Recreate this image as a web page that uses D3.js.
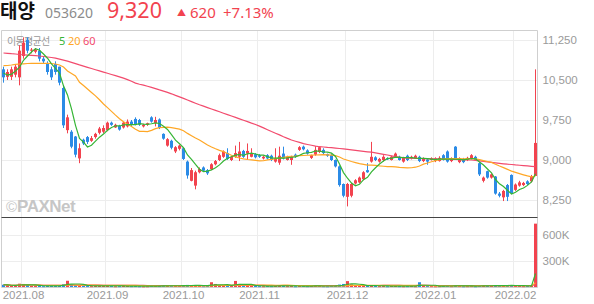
<!DOCTYPE html>
<html>
<head>
<meta charset="utf-8">
<script src="https://cdn.jsdelivr.net/npm/d3@7"></script>
<style>
  body { margin: 0; background: #fff; }
  svg { display: block; font-family: "Noto Sans", "Noto Sans CJK KR", sans-serif; }
</style>
</head>
<body>
<svg id="chart" width="594" height="304"></svg>
<script>
// header values
const stockName = "태양";
const stockCode = "053620";
const lastPrice = 9320;
const priceChange = 620;
const changePct = 7.13;

// daily candles, 2021-07-26 .. 2022-02-10
const opens = [10700,10560,10560,10600,10550,10950,11250,11050,11030,11050,
  10900,10800,10700,10800,10750,10350,9560,9530,9440,9030,
  9380,9430,9360,9430,9510,9530,9560,9700,9610,9640,
  9610,9630,9720,9770,9750,9630,9660,9800,9690,9760,
  9490,9270,9360,9160,9210,9220,8970,8610,8520,8770,
  8860,8810,8830,8920,9000,9060,9130,9000,9060,9060,
  9170,9120,9060,9110,9090,9030,9090,9080,8970,8950,
  9120,9000,9000,9100,9190,9250,9180,9040,9100,9150,
  9190,9110,9090,9000,8880,8550,8310,8330,8560,8580,
  8640,8810,8970,9050,8970,9000,9030,9000,9060,9060,
  8970,9080,9030,9030,9060,8980,9010,9000,8980,8980,
  9090,9160,8980,9250,8960,9020,9000,9030,9060,8940,
  8610,8790,8670,8690,8370,8300,8530,8720,8440,8520,
  8530,8600,8600,8700];
const highs = [10750,10700,10750,10800,11150,11300,11300,11100,11100,11100,
  10950,10850,10750,10850,10750,10400,9850,9560,9450,9310,
  9400,9450,9450,9510,9620,9650,9720,9720,9680,9660,
  9720,9760,9750,9800,9770,9680,9700,9820,9810,9780,
  9500,9410,9380,9260,9290,9230,8990,8850,8800,8860,
  8880,8830,8940,9000,9120,9180,9220,9080,9270,9340,
  9190,9310,9220,9130,9110,9080,9110,9100,9220,9250,
  9250,9080,9080,9120,9260,9270,9200,9100,9260,9250,
  9220,9120,9110,9010,8900,8560,8570,8570,8640,8690,
  8790,8940,9340,9070,9040,9090,9050,9080,9140,9080,
  9060,9100,9080,9100,9080,9050,9030,9050,9050,9070,
  9110,9180,9050,9260,9050,9040,9060,9110,9080,8960,
  8690,8800,8750,8700,8400,8440,8550,8730,8560,8610,
  8590,8620,8720,10700];
const lows = [10450,10500,10500,10550,10400,10900,11000,11000,11000,10850,
  10800,10600,10500,10600,10400,9600,9500,9220,9050,8940,
  9280,9300,9340,9400,9480,9500,9540,9640,9600,9550,
  9590,9610,9640,9650,9640,9610,9640,9700,9630,9580,
  9380,9250,9200,9130,9180,9000,8650,8600,8450,8750,
  8780,8720,8810,8900,8980,9040,9000,8980,9040,8980,
  9040,9000,9050,9030,9040,9010,9010,8980,8950,8910,
  9010,8990,8910,9040,9170,9180,9100,9020,9080,9130,
  9110,9060,8980,8860,8500,8300,8130,8300,8540,8560,
  8620,8760,8950,8980,8950,8970,9000,8990,9040,8990,
  8950,8980,9010,9020,8960,8960,8910,8990,8960,8970,
  8990,8950,8960,9000,8940,8940,8980,9010,8990,8700,
  8580,8650,8650,8350,8300,8230,8230,8360,8420,8500,
  8510,8530,8580,8700];
const closes = [10550,10650,10700,10750,11050,11200,11050,11070,11070,10900,
  10850,10650,10550,10650,10450,9650,9800,9250,9100,9220,
  9310,9340,9410,9490,9590,9600,9700,9660,9660,9570,
  9700,9720,9660,9670,9660,9660,9690,9720,9750,9600,
  9400,9390,9230,9240,9270,9020,8710,8810,8770,8830,
  8800,8750,8920,8980,9090,9160,9020,9060,9130,9160,
  9060,9170,9120,9050,9060,9060,9030,9000,9030,9080,
  9030,9060,9060,9060,9240,9200,9120,9090,9190,9240,
  9130,9080,9000,8880,8530,8330,8550,8550,8620,8670,
  8770,8770,9060,9000,9020,9060,9010,9060,9120,9000,
  9040,9000,9060,9080,8980,9030,8970,9030,9030,9040,
  9010,8970,9030,9020,9030,8960,9040,9090,9000,8730,
  8670,8670,8730,8370,8330,8420,8310,8380,8540,8580,
  8570,8550,8700,9320];
const volumes = [26000,21000,14000,16000,38000,35000,24000,12000,11000,15000,
  10000,13000,14000,12000,18000,32000,72000,28000,22000,20000,
  13000,11000,10000,12000,15000,14000,18000,11000,9000,10000,
  12000,13000,10000,11000,9000,8000,9000,12000,14000,11000,
  15000,17000,16000,12000,13000,19000,24000,20000,22000,12000,
  10000,11000,55000,35000,16000,14000,18000,11000,70000,35000,
  15000,20000,14000,12000,10000,9000,11000,10000,14000,17000,
  15000,10000,11000,9000,12000,13000,10000,11000,14000,13000,
  10000,9000,12000,16000,28000,35000,68000,30000,14000,12000,
  13000,15000,22000,12000,10000,11000,9000,14000,12000,10000,
  9000,10000,11000,9000,55000,16000,11000,10000,9000,10000,
  12000,18000,10000,20000,11000,9000,10000,11000,9000,20000,
  16000,14000,12000,22000,15000,17000,19000,21000,14000,12000,
  10000,11000,16000,731000];

const ma5Lead = [10630,10590,10610,10670];
const ma20Lead = [10768,10772,10781,10794,10800,10804,10809,10813,10813,10813,
  10813,10813,10809,10800,10781,10744,10669,10622,10575];
const ma60 = [11006,11001,10993,10988,10978,10973,10967,10961,10956,10950,
  10941,10931,10922,10911,10892,10873,10853,10830,10808,10783,
  10761,10738,10716,10693,10671,10648,10626,10603,10581,10558,
  10536,10506,10476,10442,10421,10403,10382,10361,10339,10314,
  10292,10269,10241,10211,10183,10155,10125,10095,10065,10035,
  10009,9982,9956,9930,9904,9877,9851,9825,9799,9772,
  9746,9720,9692,9666,9636,9602,9568,9534,9502,9471,
  9437,9405,9375,9352,9330,9307,9291,9276,9259,9249,
  9244,9236,9231,9223,9216,9208,9199,9189,9180,9171,
  9163,9154,9146,9133,9120,9107,9094,9079,9064,9051,
  9039,9036,9034,9032,9028,9026,9024,9022,9021,9019,
  9017,9015,9013,9009,9007,9004,9002,9000,8992,8983,
  8974,8964,8957,8947,8938,8929,8921,8916,8908,8902,
  8895,8889,8882,8876];

// axis ticks
const monthStarts = [5, 26, 45, 64, 86, 108, 128];
const monthLabels = ["2021.08", "2021.09", "2021.10", "2021.11", "2021.12", "2022.01", "2022.02"];
const priceTicks = [8250, 9000, 9750, 10500, 11250];
const volumeTicks = [300000, 600000];

const upColor = "#f2434f";
const downColor = "#2b8be6";
const maColors = { ma5: "#35b535", ma20: "#ffa726", ma60: "#f24b6d" };

function movingAvg(values, n, lead) {
  return values.map((v, i) => {
    if (i < n - 1) return lead ? lead[i] : d3.mean(values.slice(0, i + 1));
    return d3.mean(values.slice(i - n + 1, i + 1));
  });
}

const ma5 = movingAvg(closes, 5, ma5Lead);
const ma20 = movingAvg(closes, 20, ma20Lead);
const vma5 = movingAvg(volumes, 5);
const vma20 = movingAvg(volumes, 20);
const vma60 = movingAvg(volumes, 60);

const svg = d3.select("#chart");
const plotLeft = 1.5, plotRight = 537.5, plotTop = 30.5, sepY = 217.5, plotBottom = 287.5;

const idx = d3.range(closes.length);
const x = d3.scaleBand().domain(idx).range([plotLeft, plotRight]);
const cx = i => x(i) + x.bandwidth() / 2;
const yP = d3.scaleLinear().domain([8250, 11250]).range([200, 40]);
const yV = d3.scaleLinear().domain([0, 600000]).range([287, 235]);

// grid
const grid = svg.append("g").attr("stroke", "#ededed").attr("stroke-width", 1);
grid.selectAll(".hp").data(priceTicks).join("line")
  .attr("x1", plotLeft).attr("x2", plotRight)
  .attr("y1", d => Math.round(yP(d)) + 0.5).attr("y2", d => Math.round(yP(d)) + 0.5);
grid.selectAll(".hv").data(volumeTicks).join("line")
  .attr("x1", plotLeft).attr("x2", plotRight)
  .attr("y1", d => Math.round(yV(d)) + 0.5).attr("y2", d => Math.round(yV(d)) + 0.5);
grid.selectAll(".v").data(monthStarts).join("line")
  .attr("x1", d => x(d)).attr("x2", d => x(d))
  .attr("y1", plotTop).attr("y2", plotBottom);

// frame
svg.append("path")
  .attr("d", `M${plotLeft},${plotBottom}V${plotTop}H${plotRight}V${plotBottom}H${plotLeft}`)
  .attr("fill", "none").attr("stroke", "#cfcfcf");
svg.append("line").attr("x1", plotLeft).attr("x2", plotRight).attr("y1", sepY).attr("y2", sepY)
  .attr("stroke", "#444");

// watermark
const wm = svg.append("text").attr("x", 6).attr("y", 211.5)
  .attr("fill", "#c6c6c6").attr("font-family", "Liberation Sans, Arial, sans-serif");
wm.append("tspan").attr("font-size", 15).text("©");
wm.append("tspan").attr("font-size", 17).attr("font-weight", "bold").attr("letter-spacing", -0.5).text("PAXNet");

// legend
const legend = svg.append("text").attr("x", 7).attr("y", 44.5).attr("font-size", 11);
legend.append("tspan").attr("fill", "#999").attr("font-family", "Noto Sans CJK KR")
  .attr("font-size", 10).attr("letter-spacing", -0.7).text("이동평균선");
legend.append("tspan").attr("fill", maColors.ma5).attr("x", 59).text("5");
legend.append("tspan").attr("fill", maColors.ma20).attr("x", 68).text("20");
legend.append("tspan").attr("fill", maColors.ma60).attr("x", 83).text("60");

// candles
const candles = svg.append("g");
candles.selectAll("line").data(idx).join("line")
  .attr("x1", cx).attr("x2", cx)
  .attr("y1", i => yP(highs[i])).attr("y2", i => yP(lows[i]))
  .attr("stroke", i => closes[i] >= opens[i] ? upColor : downColor);
candles.selectAll("rect").data(idx).join("rect")
  .attr("x", i => cx(i) - 1.5).attr("width", 3)
  .attr("y", i => yP(Math.max(opens[i], closes[i])))
  .attr("height", i => Math.max(1, Math.abs(yP(opens[i]) - yP(closes[i]))))
  .attr("fill", i => closes[i] >= opens[i] ? upColor : downColor);

// price moving averages
const priceLine = arr => d3.line().x(cx).y(i => yP(arr[i]))(idx);
[[ma60, maColors.ma60], [ma20, maColors.ma20], [ma5, maColors.ma5]].forEach(([arr, c]) => {
  svg.append("path").attr("d", priceLine(arr)).attr("fill", "none")
    .attr("stroke", c).attr("stroke-width", 1.2);
});

// volume bars
svg.append("g").selectAll("rect").data(idx).join("rect")
  .attr("x", i => cx(i) - 1.5).attr("width", 3)
  .attr("y", i => yV(volumes[i]))
  .attr("height", i => Math.max(1, yV(0) - yV(volumes[i])))
  .attr("fill", i => closes[i] >= opens[i] ? upColor : downColor);

const volLine = arr => d3.line().x(cx).y(i => yV(arr[i]))(idx);
[[vma60, maColors.ma60], [vma20, maColors.ma20], [vma5, maColors.ma5]].forEach(([arr, c]) => {
  svg.append("path").attr("d", volLine(arr)).attr("fill", "none")
    .attr("stroke", c).attr("stroke-width", 1.2);
});

// axes
const axisStyle = g => {
  g.select(".domain").remove();
  g.selectAll("text").attr("fill", "#9a9a9a").attr("font-size", 11.5);
};
svg.append("g").attr("transform", `translate(${plotRight + 4},0)`)
  .call(d3.axisRight(yP).tickValues(priceTicks).tickSize(0).tickPadding(1).tickFormat(d3.format(",")))
  .call(axisStyle);
svg.append("g").attr("transform", `translate(${plotRight + 4},0)`)
  .call(d3.axisRight(yV).tickValues(volumeTicks).tickSize(0).tickPadding(1).tickFormat(d => d / 1000 + "K"))
  .call(axisStyle);
svg.append("g").attr("transform", `translate(0,${plotBottom})`)
  .call(d3.axisBottom(x).tickValues(monthStarts).tickSize(0).tickPadding(3)
    .tickFormat(d => monthLabels[monthStarts.indexOf(d)]))
  .call(axisStyle);

// header
svg.append("text").attr("x", 0).attr("y", 18)
  .attr("font-family", "Noto Sans CJK KR").attr("font-weight", "bold").attr("font-size", 19)
  .attr("fill", "#111").text(stockName);
svg.append("text").attr("x", 45).attr("y", 17.5)
  .attr("font-size", 14).attr("fill", "#8c8c8c").text(stockCode);
svg.append("text").attr("x", 107).attr("y", 18)
  .attr("font-size", 21.5).attr("fill", upColor).text(d3.format(",")(lastPrice));
svg.append("text").attr("x", 177).attr("y", 15.5)
  .attr("font-size", 9).attr("fill", upColor).text("▲");
svg.append("text").attr("x", 190).attr("y", 17.5)
  .attr("font-size", 15).attr("fill", upColor).text(d3.format(",")(priceChange));
svg.append("text").attr("x", 223).attr("y", 17.5)
  .attr("font-size", 15).attr("fill", upColor).text(`+${changePct.toFixed(2)}%`);
</script>
</body>
</html>
